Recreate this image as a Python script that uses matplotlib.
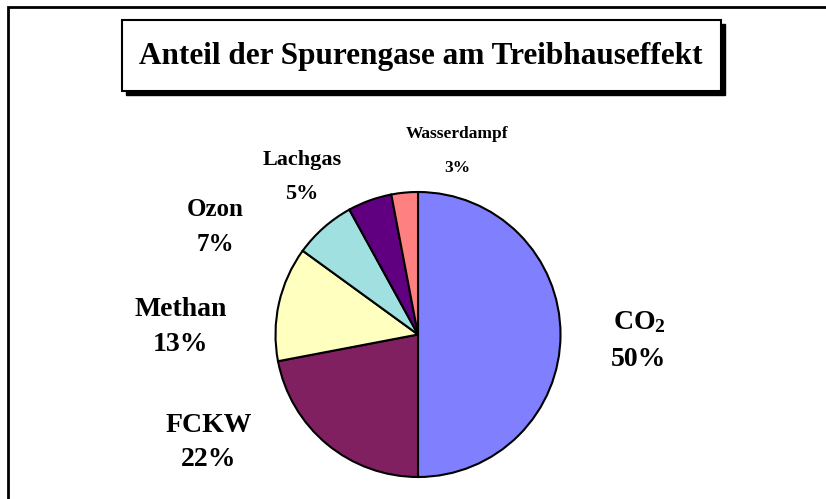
import matplotlib
matplotlib.use("Agg")
import matplotlib.pyplot as plt
from matplotlib.patches import Rectangle

plt.rcParams['font.family'] = ['Liberation Serif', 'DejaVu Serif']
plt.rcParams['mathtext.fontset'] = 'custom'
plt.rcParams['mathtext.rm'] = 'Liberation Serif:bold'
plt.rcParams['mathtext.default'] = 'rm'

title = "Anteil der Spurengase am Treibhauseffekt"
categories = ["CO$_2$", "FCKW", "Methan", "Ozon", "Lachgas", "Wasserdampf"]
values = [50, 22, 13, 7, 5, 3]
colors = ["#8080FF", "#802060", "#FFFFC0", "#A0E0E0", "#600080", "#FF8080"]

# label layout (pixel coordinates in the 826x499 image): x centre,
# baseline of name line, baseline of percent line, font size
label_x = [639, 209, 181, 215, 302, 457]
name_base = [329, 432, 316, 216, 165, 138]
pct_base = [366, 466, 351, 251, 199, 172]
label_size = [20, 20, 20, 18, 16, 12.5]

W, H = 826, 499
DPI = 100
fig = plt.figure(figsize=(W / DPI, H / DPI), dpi=DPI)
fig.patch.set_facecolor("white")

cx, cy, r = 418, 334.5, 142.5
ax = fig.add_axes([0, 0, 1, 1])

ax.pie(values, colors=colors, startangle=90, counterclock=False,
       radius=1.0, center=(0, 0), frame=True,
       wedgeprops=dict(edgecolor="black", linewidth=1.5))
ax.set_xlim(-cx / r, (W - cx) / r)
ax.set_ylim(-(H - cy) / r, cy / r)
ax.set_aspect("auto")
ax.axis("off")

def to_data(px, py):
    return (px - cx) / r, (cy - py) / r

for cat, val, x, nb, pb, fs in zip(categories, values, label_x,
                                   name_base, pct_base, label_size):
    ax.text(*to_data(x, nb), cat, ha="center", va="baseline",
            fontsize=fs, fontweight="bold")
    ax.text(*to_data(x, pb), f"{val}%", ha="center", va="baseline",
            fontsize=fs, fontweight="bold")

# outer border (clipped at right and bottom)
fig.add_artist(Rectangle((8 / W, -0.1), 1.2, (H - 7) / H + 0.1,
                         transform=fig.transFigure, fill=False,
                         edgecolor="black", linewidth=2))

# title box with shadow
bx0, by0, bx1, by1 = 122, 20, 721, 91
sh = 4
fig.add_artist(Rectangle(((bx0 + sh) / W, 1 - (by1 + sh) / H),
                         (bx1 - bx0) / W, (by1 - by0) / H,
                         transform=fig.transFigure, facecolor="black",
                         edgecolor="black", linewidth=1))
fig.add_artist(Rectangle((bx0 / W, 1 - by1 / H),
                         (bx1 - bx0) / W, (by1 - by0) / H,
                         transform=fig.transFigure, facecolor="white",
                         edgecolor="black", linewidth=1.5))
fig.text(421 / W, 1 - 64 / H, title,
         ha="center", va="baseline", fontsize=22.5, fontweight="bold")

fig.savefig("out.png", dpi=DPI, facecolor="white")
